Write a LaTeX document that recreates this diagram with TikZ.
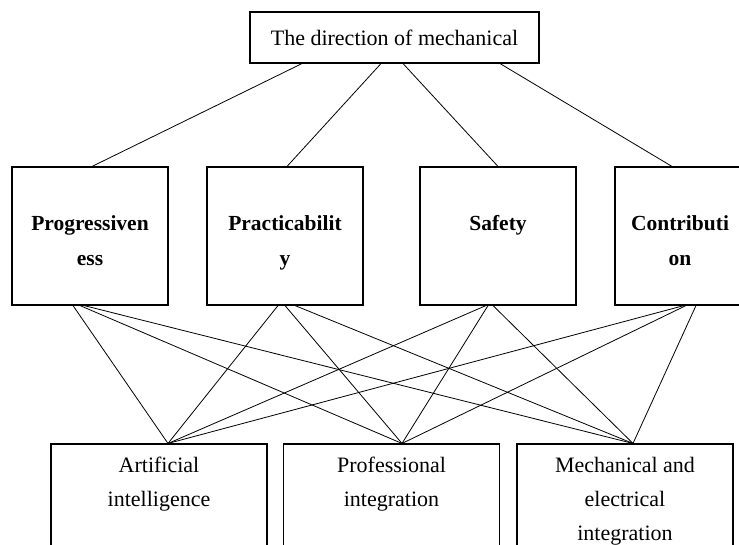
\documentclass[tikz,border=0pt]{standalone}
\usepackage{fontspec}
\setmainfont{Liberation Serif}

\begin{document}
\begin{tikzpicture}[
		x=1pt,y=-1pt,
		box/.style={draw,line width=1.1pt,minimum width=156pt,minimum height=138pt,inner sep=0pt},
		topbox/.style={draw,line width=1.1pt,minimum width=289pt,minimum height=51pt,inner sep=0pt,
			font=\fontsize{22}{26}\selectfont},
		lowbox/.style={draw,line width=1.1pt,minimum width=216pt,minimum height=152pt,inner sep=0pt},
		lab/.style={align=center,inner sep=0pt,anchor=north,font=\fontsize{22}{34}\selectfont},
		blab/.style={lab,font=\fontsize{21.5}{35}\selectfont\bfseries},
		link/.style={line width=0.8pt}
		]
		% ===== Page frame =====
		\useasboundingbox (0,0) rectangle (739,544);
		% ===== Top box =====
		\node[topbox] (dir) at (394.5,37.5) {The direction of mechanical};
		% ===== Criteria row =====
		\node[box] (prog)  at (90,236)  {};
		\node[box] (prac)  at (285,236) {};
		\node[box] (safe)  at (498,236) {};
		\node[box,minimum width=130pt] (contr) at (680,236) {};
		\node[blab] (progtxt)  at (90,215)  {Progressiven\\ess};
		\node[blab] (practxt)  at (285,215) {Practicabilit\\y};
		\node[blab] (safetxt)  at (498,215) {Safety};
		\node[blab] (contrtxt) at (680,215) {Contributi\\on};
		% ===== Direction row =====
		\node[lowbox] (ai)  at (159,520)   {};
		\node[lowbox] (pi)  at (391.5,520) {};
		\node[lowbox] (mei) at (625,520)   {};
		\node[lab] (aitxt)  at (159,457)   {Artificial\\intelligence};
		\node[lab] (pitxt)  at (391.5,457) {Professional\\integration};
		\node[lab] (meitxt) at (625,457)   {Mechanical and\\electrical\\integration};
		% ===== Top links =====
		\draw[link] ([xshift=-92.5pt]dir.south) -- ([xshift=2pt]prog.north);
		\draw[link] ([xshift=-13.5pt]dir.south) -- ([xshift=2pt]prac.north);
		\draw[link] ([xshift=8.5pt]dir.south)   -- (safe.north);
		\draw[link] ([xshift=105.5pt]dir.south) -- ([xshift=-8pt]contr.north);
		% ===== Lower links =====
		\draw[link] ([xshift=-17pt]prog.south) -- ([xshift=9pt]ai.north);
		\draw[link] ([xshift=-10pt]prog.south) -- ([xshift=10.5pt]pi.north);
		\draw[link] ([xshift=-6pt]prog.south)  -- ([xshift=8pt]mei.north);
		\draw[link] ([xshift=-7pt]prac.south)  -- ([xshift=9pt]ai.north);
		\draw[link] (prac.south)               -- ([xshift=10.5pt]pi.north);
		\draw[link] ([xshift=10pt]prac.south)  -- ([xshift=8pt]mei.north);
		\draw[link] ([xshift=-12pt]safe.south) -- ([xshift=9pt]ai.north);
		\draw[link] ([xshift=-10pt]safe.south) -- ([xshift=10.5pt]pi.north);
		\draw[link] ([xshift=-5pt]safe.south)  -- ([xshift=8pt]mei.north);
		\draw[link] ([xshift=4pt]contr.south)  -- ([xshift=9pt]ai.north);
		\draw[link] ([xshift=6pt]contr.south)  -- ([xshift=10.5pt]pi.north);
		\draw[link] ([xshift=16pt]contr.south) -- ([xshift=8pt]mei.north);
	\end{tikzpicture}
\end{document}
